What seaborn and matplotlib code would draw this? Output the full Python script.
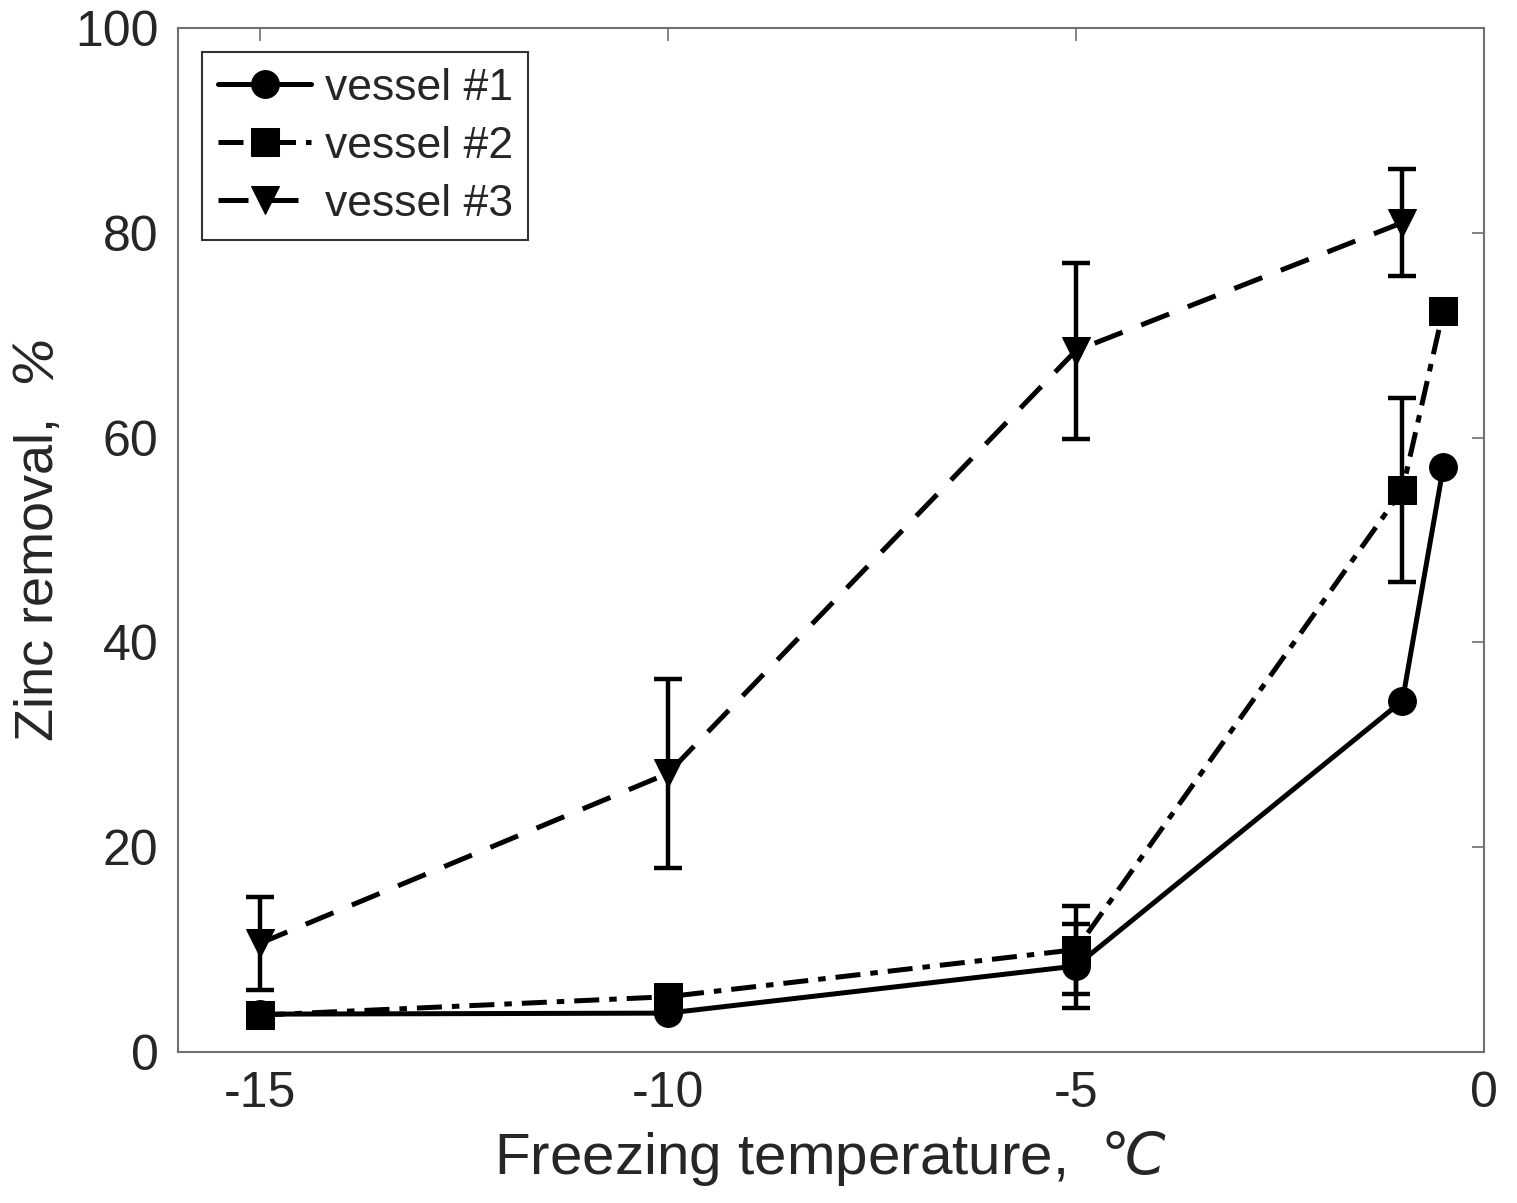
import numpy as np
import pandas as pd
import matplotlib
matplotlib.use("Agg")
import matplotlib.pyplot as plt
import seaborn as sns

# 読み取った値
temps = [-15, -10, -5, -1, -0.5]
v1_vals = [3.7, 3.8, 8.4, 34.3, 57.1]
v1_err = [0, 0, 4.1, 0, 0]
v2_vals = [3.6, 5.4, 10.0, 54.9, 72.4]
v2_err = [0, 0, 4.3, 9.0, 0]
v3_temps = [-15, -10, -5, -1]
v3_vals = [10.6, 27.2, 68.5, 81.0]
v3_err = [4.5, 9.2, 8.6, 5.2]
labels = ["vessel #1", "vessel #2", "vessel #3"]

df = pd.concat([
    pd.DataFrame({"temp": temps, "removal": v1_vals, "err": v1_err, "vessel": labels[0]}),
    pd.DataFrame({"temp": temps, "removal": v2_vals, "err": v2_err, "vessel": labels[1]}),
    pd.DataFrame({"temp": v3_temps, "removal": v3_vals, "err": v3_err, "vessel": labels[2]}),
], ignore_index=True)

sns.set_style("white")
plt.rcParams["font.family"] = ["Liberation Sans", "DejaVu Sans"]
# 単位記号はイタリック
plt.rcParams["mathtext.fontset"] = "custom"
plt.rcParams["mathtext.rm"] = "DejaVu Sans:italic"
plt.rcParams["mathtext.it"] = "DejaVu Sans:italic"

fig = plt.figure(figsize=(15.17, 12.03), dpi=100)
ax = fig.add_axes([0.1173, 0.1255, 0.861, 0.8512])

markers = {labels[0]: "o", labels[1]: "s", labels[2]: "v"}
dashes = {labels[0]: "", labels[1]: (5, 2, 1.5, 2), labels[2]: (6, 4)}
sns.lineplot(data=df, x="temp", y="removal", hue="vessel", style="vessel",
             palette=["black"] * 3, markers=markers, dashes=dashes,
             markersize=20, markeredgecolor="black", linewidth=3.6,
             estimator=None, sort=False, ax=ax)

# エラーバー
for name in labels:
    sub = df[(df["vessel"] == name) & (df["err"] > 0)]
    ax.errorbar(sub["temp"], sub["removal"], yerr=sub["err"], fmt="none",
                ecolor="black", elinewidth=3.2, capsize=10, capthick=3.2, zorder=5)

ax.set_xlim(-16, 0)
ax.set_ylim(0, 100)
ax.set_xticks([-15, -10, -5, 0])
ax.set_xticklabels(["-15", "-10", "-5", "0"])
ax.set_yticks([0, 20, 40, 60, 80, 100])

ax.tick_params(direction="in", length=9, width=1.2, color="#707070",
               labelcolor="#262626", labelsize=36, top=True, right=True,
               pad=14)
for sp in ax.spines.values():
    sp.set_color("#707070")
    sp.set_linewidth(1.5)
    sp.set_visible(True)

ax.set_xlabel("Freezing temperature,  $℃$", fontsize=42, color="#262626", labelpad=8)
ax.set_ylabel("Zinc removal,  $\\%$", fontsize=39, color="#262626", labelpad=8)

leg = ax.legend(loc="upper left", fontsize=32, frameon=True, fancybox=False,
                edgecolor="#333333", handlelength=2.1, borderaxespad=0.55,
                handletextpad=0.3, labelspacing=0.38, borderpad=0.35)
leg.get_frame().set_linewidth(1.5)
leg.get_frame().set_alpha(1)

fig.savefig("out.png", dpi=100)
